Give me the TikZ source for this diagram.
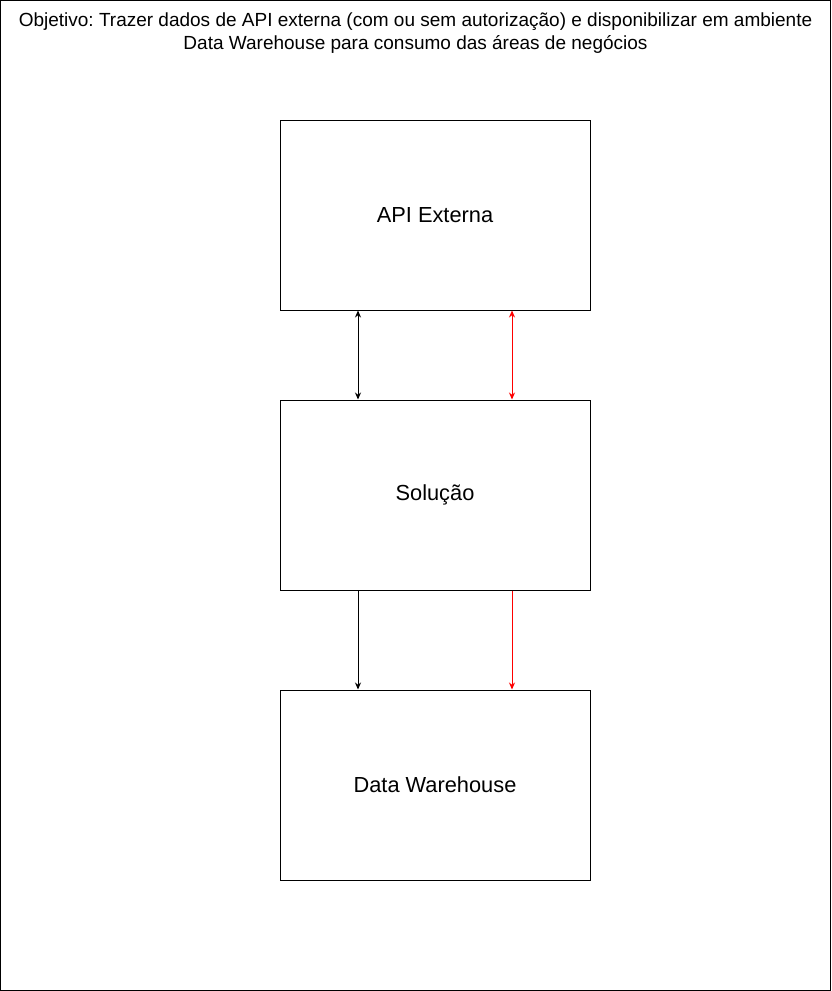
\documentclass[tikz,border=0pt]{standalone}
\usepackage{fontspec}
\setmainfont{Liberation Sans}
\usetikzlibrary{arrows.meta}
\frenchspacing
\begin{document}
\begin{tikzpicture}[x=1pt,y=-1pt,
  blockbox/.style={draw=black,line width=1pt,minimum width=310pt,minimum height=190pt,inner sep=0pt,font=\fontsize{21.8}{26}\selectfont},
  link/.style={line width=1pt,-{Stealth[length=7pt,width=6pt]}},
  dlink/.style={line width=1pt,{Stealth[length=7pt,width=6pt]}-{Stealth[length=7pt,width=6pt]}},
  rdlink/.style={line width=1pt,red,{Stealth[length=7pt,width=6pt,open]}-{Stealth[length=7pt,width=6pt]}}]
\useasboundingbox (0,0) rectangle (831,991);
\draw[line width=1pt] (0.5,0.5) rectangle (830.5,990.5);
\node[align=center,font=\fontsize{19}{23}\selectfont] (title) at (415.5,33) {Objetivo: Trazer dados de API externa (com ou sem autorização) e disponibilizar em ambiente\\Data Warehouse para consumo das áreas de negócios};
\node[blockbox] (api) at (435,215) {API Externa};
\node[blockbox] (sol) at (435,495) {Solução};
\node[blockbox] (dw) at (435,785) {Data Warehouse};
\draw[dlink] (api.south -| 358,0) -- (sol.north -| 358,0);
\draw[rdlink] (api.south -| 512,0) -- (sol.north -| 512,0);
\draw[link] (sol.south -| 358,0) -- (dw.north -| 358,0);
\draw[link,red] (sol.south -| 512,0) -- (dw.north -| 512,0);
\end{tikzpicture}
\end{document}
